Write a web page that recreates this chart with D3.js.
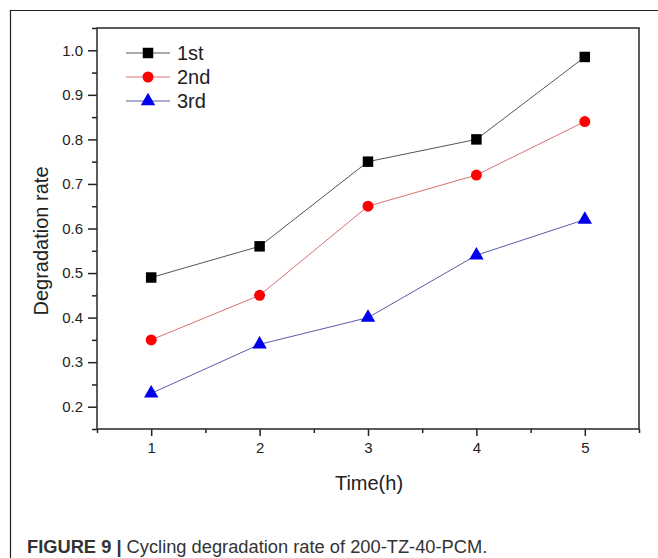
<!DOCTYPE html>
<html>
<head>
<meta charset="utf-8">
<script src="https://cdn.jsdelivr.net/npm/d3@7/dist/d3.min.js"></script>
<style>
  html, body { margin: 0; padding: 0; background: #fff; }
  svg { display: block; font-family: "Liberation Sans", Arial, sans-serif; }
</style>
</head>
<body>
<div id="chart"></div>
<script>
// Ciclos de degradação
const times = [1, 2, 3, 4, 5];
const serieNames = ["1st", "2nd", "3rd"];
const first = [0.49, 0.56, 0.75, 0.80, 0.985];
const second = [0.35, 0.45, 0.65, 0.72, 0.84];
const third = [0.23, 0.34, 0.40, 0.54, 0.62];
const yTicks = [0.2, 0.3, 0.4, 0.5, 0.6, 0.7, 0.8, 0.9, 1.0];
const xTicks = [1, 2, 3, 4, 5];

const W = 658, H = 558;
const m = { left: 97, top: 28, right: 639, bottom: 429 };

const svg = d3.select("#chart").append("svg")
  .attr("width", W).attr("height", H);

// moldura externa da figura
svg.append("path")
  .attr("d", `M10.5,${H} V10.5 H${W}`)
  .attr("fill", "none").attr("stroke", "#222").attr("stroke-width", 1.2);

const x = d3.scaleLinear().domain([0.5, 5.5]).range([m.left, m.right]);
const y = d3.scaleLinear().domain([0.15, 1.05]).range([m.bottom, m.top]);

// eixo Y: ticks maiores e menores
const yMinor = d3.range(0.15, 1.06, 0.1).map(v => +v.toFixed(2));
svg.append("g")
  .attr("transform", `translate(${m.left},0)`)
  .call(d3.axisLeft(y).tickValues(yMinor).tickSize(5).tickFormat(""))
  .call(g => g.select(".domain").remove())
  .call(g => g.selectAll("line").attr("stroke", "#222").attr("stroke-width", 1.5));
svg.append("g")
  .attr("transform", `translate(${m.left},0)`)
  .call(d3.axisLeft(y).tickValues(yTicks).tickSize(9).tickPadding(5).tickFormat(d3.format(".1f")))
  .call(g => g.select(".domain").remove())
  .call(g => g.selectAll("line").attr("stroke", "#222").attr("stroke-width", 1.5))
  .call(g => g.selectAll("text").attr("font-size", "15px").attr("fill", "#222")
    .attr("font-family", "Liberation Sans, Arial, sans-serif"));

// eixo X
const xMinor = [0.5, 1.5, 2.5, 3.5, 4.5, 5.5];
svg.append("g")
  .attr("transform", `translate(0,${m.bottom})`)
  .call(d3.axisBottom(x).tickValues(xMinor).tickSize(4).tickFormat(""))
  .call(g => g.select(".domain").remove())
  .call(g => g.selectAll("line").attr("stroke", "#222").attr("stroke-width", 1.5));
svg.append("g")
  .attr("transform", `translate(0,${m.bottom})`)
  .call(d3.axisBottom(x).tickValues(xTicks).tickSize(7).tickPadding(6).tickFormat(d3.format("d")))
  .call(g => g.select(".domain").remove())
  .call(g => g.selectAll("line").attr("stroke", "#222").attr("stroke-width", 1.5))
  .call(g => g.selectAll("text").attr("font-size", "15px").attr("fill", "#222")
    .attr("font-family", "Liberation Sans, Arial, sans-serif"));

// caixa do gráfico
svg.append("rect")
  .attr("x", m.left).attr("y", m.top)
  .attr("width", m.right - m.left).attr("height", m.bottom - m.top)
  .attr("fill", "none").attr("stroke", "#333").attr("stroke-width", 1.6);

const series = [
  { name: serieNames[0], values: first, line: "#555", fill: "#000", shape: d3.symbolSquare, size: 110 },
  { name: serieNames[1], values: second, line: "#d97070", fill: "#f00", shape: d3.symbolCircle, size: 95 },
  { name: serieNames[2], values: third, line: "#5a5aa8", fill: "#0000ee", shape: d3.symbolTriangle, size: 90 }
];

const line = d3.line().x((d, i) => x(times[i])).y(d => y(d));

series.forEach(s => {
  svg.append("path")
    .attr("d", line(s.values))
    .attr("fill", "none").attr("stroke", s.line).attr("stroke-width", 1);
  svg.append("g").selectAll("path")
    .data(s.values)
    .join("path")
    .attr("transform", (d, i) => `translate(${x(times[i])},${y(d)})`)
    .attr("d", d3.symbol().type(s.shape).size(s.size))
    .attr("fill", s.fill);
});

// legenda
const leg = svg.append("g");
series.forEach((s, i) => {
  const ly = 53 + i * 24;
  leg.append("line")
    .attr("x1", 126).attr("x2", 170).attr("y1", ly).attr("y2", ly)
    .attr("stroke", s.line).attr("stroke-width", 1);
  leg.append("path")
    .attr("transform", `translate(148,${ly})`)
    .attr("d", d3.symbol().type(s.shape).size(s.size))
    .attr("fill", s.fill);
  leg.append("text")
    .attr("x", 177).attr("y", ly).attr("dy", "0.36em")
    .attr("font-size", "20px").attr("fill", "#222")
    .text(s.name);
});

// títulos dos eixos
svg.append("text")
  .attr("transform", `translate(48,241) rotate(-90)`)
  .attr("text-anchor", "middle")
  .attr("font-size", "20px").attr("fill", "#222")
  .text("Degradation rate");
svg.append("text")
  .attr("x", 369).attr("y", 490)
  .attr("text-anchor", "middle")
  .attr("font-size", "20px").attr("fill", "#222")
  .text("Time(h)");

// legenda da figura
const cap = svg.append("text")
  .attr("x", 27).attr("y", 553)
  .attr("font-size", "18.3px").attr("fill", "#333");
cap.append("tspan").attr("font-weight", "bold").text("FIGURE 9 | ");
cap.append("tspan").text("Cycling degradation rate of 200-TZ-40-PCM.");
</script>
</body>
</html>
